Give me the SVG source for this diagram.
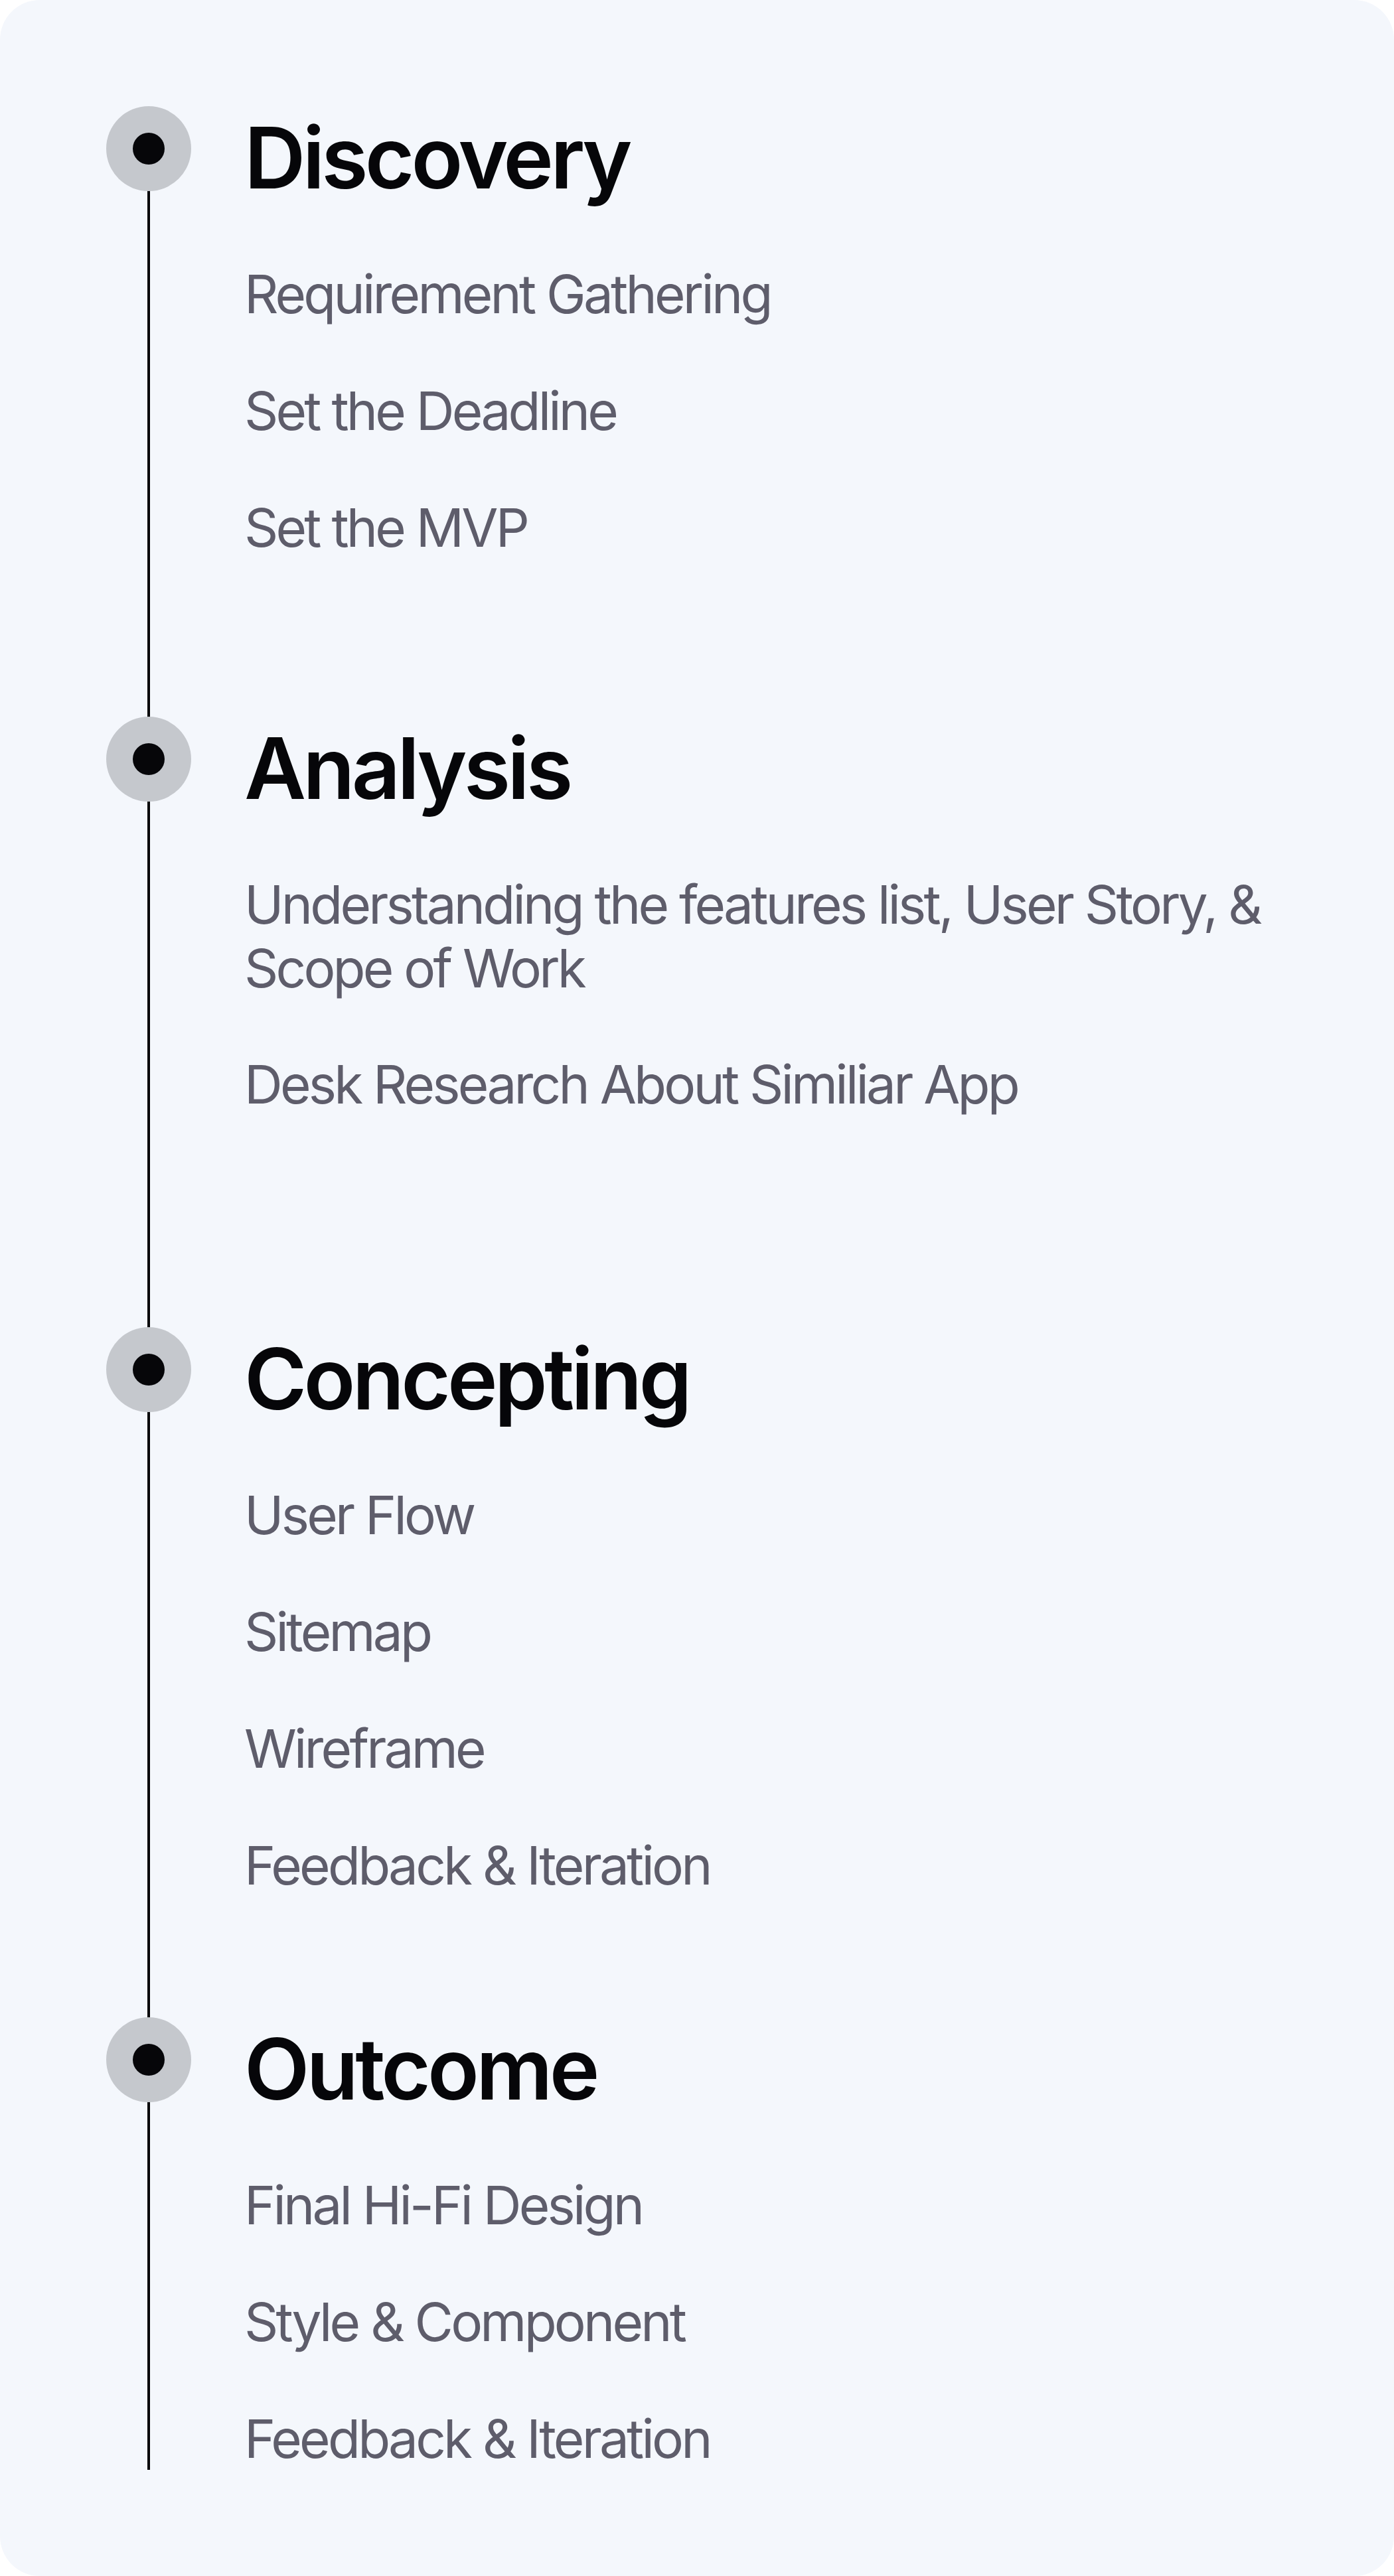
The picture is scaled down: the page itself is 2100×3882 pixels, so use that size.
<svg xmlns="http://www.w3.org/2000/svg" width="2100" height="3882" viewBox="0 0 2100 3882">
  <style>
    .title { font-family: Inter, "Liberation Sans", sans-serif; font-weight: 600; font-size: 128px; letter-spacing: -4.8px; fill: #060609; }
    .item { font-family: Inter, "Liberation Sans", sans-serif; font-weight: 400; font-size: 80px; letter-spacing: -3.8px; fill: #5E5D6B; }
    .ring { fill: #C5C8CD; }
    .dot { fill: #060609; }
  </style>
  <rect x="0" y="0" width="2100" height="3882" fill="#FFFFFF"/>
  <rect x="0" y="0" width="2100" height="3882" rx="60" ry="60" fill="#F4F7FC"/>
  <g id="connectors">
    <line x1="224" y1="224" x2="224" y2="3722" stroke="#060609" stroke-width="4"/>
  </g>
  <g id="discovery">
    <circle class="ring" cx="224" cy="224" r="64"/>
    <circle class="dot" cx="224" cy="224" r="24"/>
    <text class="title" x="368" y="284">Discovery</text>
    <text class="item" x="368" y="472">Requirement Gathering</text>
    <text class="item" x="368" y="648">Set the Deadline</text>
    <text class="item" x="368" y="824">Set the MVP</text>
  </g>
  <g id="analysis">
    <circle class="ring" cx="224" cy="1144" r="64"/>
    <circle class="dot" cx="224" cy="1144" r="24"/>
    <text class="title" x="368" y="1204">Analysis</text>
    <text class="item" x="368" y="1392">Understanding the features list, User Story, &amp;</text>
    <text class="item" x="368" y="1488">Scope of Work</text>
    <text class="item" x="368" y="1663">Desk Research About Similiar App</text>
  </g>
  <g id="concepting">
    <circle class="ring" cx="224" cy="2064" r="64"/>
    <circle class="dot" cx="224" cy="2064" r="24"/>
    <text class="title" x="368" y="2124">Concepting</text>
    <text class="item" x="368" y="2312">User Flow</text>
    <text class="item" x="368" y="2488">Sitemap</text>
    <text class="item" x="368" y="2664">Wireframe</text>
    <text class="item" x="368" y="2840">Feedback &amp; Iteration</text>
  </g>
  <g id="outcome">
    <circle class="ring" cx="224" cy="3104" r="64"/>
    <circle class="dot" cx="224" cy="3104" r="24"/>
    <text class="title" x="368" y="3164">Outcome</text>
    <text class="item" x="368" y="3352">Final Hi-Fi Design</text>
    <text class="item" x="368" y="3528">Style &amp; Component</text>
    <text class="item" x="368" y="3704">Feedback &amp; Iteration</text>
  </g>
</svg>
